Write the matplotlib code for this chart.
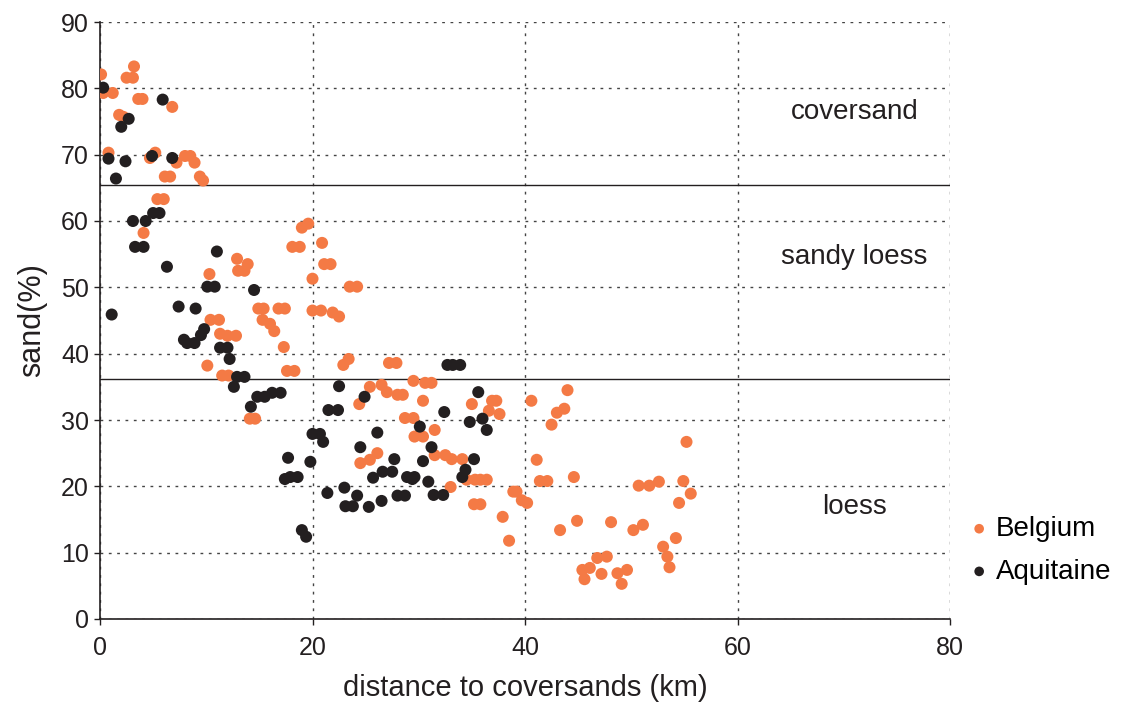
import matplotlib
matplotlib.use("Agg")
import matplotlib.pyplot as plt
from matplotlib import font_manager

# Belgium samples (distance km, sand %)
belgium_x = [0.1, 0.3, 1.2, 2.5, 3.1, 3.2, 3.6, 4.0, 6.8, 1.8, 2.2, 0.8, 4.7, 5.2, 7.2, 8.0, 8.5, 8.9,
             6.1, 6.6, 9.4, 9.7, 5.4, 6.0, 4.1, 10.3, 12.9, 13.0, 13.6, 13.9, 10.4, 11.2, 11.3, 12.0,
             12.8, 10.1, 11.5, 12.1, 14.9, 15.4, 16.8, 17.4, 15.3, 16.0, 16.4, 17.3, 17.6, 18.3, 14.1,
             14.6, 19.0, 19.6, 18.1, 18.8, 20.9, 21.1, 21.7, 20.0, 23.5, 24.2, 20.0, 20.8, 21.9, 22.5,
             22.9, 23.4, 27.2, 27.9, 25.4, 26.5, 27.0, 28.0, 28.5, 29.5, 30.6, 31.2, 24.4, 30.4, 35.0,
             28.7, 29.5, 31.5, 29.6, 30.4, 24.5, 25.4, 26.1, 31.5, 32.5, 33.1, 34.1, 33.0, 34.5, 35.3,
             35.8, 36.4, 35.2, 35.8, 36.9, 37.3, 36.6, 37.6, 37.9, 38.5, 38.9, 39.2, 39.7, 40.2, 40.6,
             41.1, 41.4, 42.1, 42.5, 43.0, 43.7, 44.0, 44.6, 43.3, 44.9, 45.4, 46.1, 45.6, 46.8, 47.7,
             47.2, 48.1, 48.7, 49.6, 49.1, 50.2, 51.1, 50.7, 51.7, 52.6, 53.0, 53.4, 53.6, 54.2, 54.5,
             54.9, 55.2, 55.6]
belgium_y = [82.1, 79.3, 79.3, 81.6, 81.6, 83.3, 78.4, 78.4, 77.2, 76.0, 75.7, 70.3, 69.5, 70.3, 68.8, 69.8, 69.8, 68.8,
             66.7, 66.7, 66.7, 66.1, 63.3, 63.3, 58.2, 52.0, 54.3, 52.5, 52.5, 53.5, 45.1, 45.1, 43.0, 42.7,
             42.7, 38.2, 36.7, 36.7, 46.8, 46.8, 46.8, 46.8, 45.1, 44.5, 43.4, 41.0, 37.4, 37.4, 30.2,
             30.2, 59.0, 59.6, 56.1, 56.1, 56.7, 53.5, 53.5, 51.3, 50.1, 50.1, 46.5, 46.5, 46.2, 45.6,
             38.3, 39.2, 38.6, 38.6, 35.0, 35.3, 34.2, 33.8, 33.8, 35.9, 35.6, 35.6, 32.4, 32.9, 32.4,
             30.3, 30.3, 28.5, 27.5, 27.5, 23.5, 24.0, 25.0, 24.7, 24.7, 24.1, 24.1, 19.9, 21.0, 21.0,
             21.0, 21.0, 17.3, 17.3, 32.9, 32.9, 31.4, 30.9, 15.4, 11.8, 19.2, 19.2, 17.9, 17.5, 32.9,
             24.0, 20.8, 20.8, 29.3, 31.1, 31.7, 34.5, 21.4, 13.4, 14.8, 7.4, 7.7, 6.0, 9.2, 9.4,
             6.8, 14.6, 6.9, 7.4, 5.3, 13.4, 14.2, 20.1, 20.1, 20.7, 10.9, 9.4, 7.8, 12.2, 17.5,
             20.8, 26.7, 18.9]

# Aquitaine samples
aquitaine_x = [0.3, 0.8, 2.4, 1.5, 2.0, 2.7, 5.9, 4.9, 6.8, 3.1, 4.3, 5.0, 5.6, 3.3, 4.1, 6.3, 11.0, 10.1,
               10.8, 14.5, 1.1, 7.4, 9.0, 9.8, 9.5, 7.9, 8.2, 8.9, 11.3, 12.0, 12.2, 12.9, 13.6, 12.6,
               14.2, 14.8, 15.5, 16.2, 17.0, 17.4, 17.7, 17.9, 18.6, 19.0, 19.4, 19.8, 20.0, 20.7, 21.0,
               21.4, 21.5, 22.4, 22.5, 23.0, 23.1, 23.8, 24.2, 24.5, 24.9, 25.3, 25.7, 26.1, 26.5, 26.6,
               27.5, 27.7, 28.0, 28.7, 28.9, 29.6, 29.4, 30.1, 30.4, 30.9, 31.2, 31.4, 32.3, 32.4, 32.7,
               33.2, 33.9, 34.1, 34.4, 34.8, 35.2, 35.6, 36.0, 36.4]
aquitaine_y = [80.1, 69.4, 69.0, 66.4, 74.2, 75.4, 78.3, 69.8, 69.5, 60.0, 60.0, 61.2, 61.2, 56.1, 56.1, 53.1, 55.4, 50.1,
               50.1, 49.6, 45.9, 47.1, 46.8, 43.7, 42.8, 42.1, 41.6, 41.6, 40.9, 40.9, 39.2, 36.5, 36.5, 35.0,
               32.0, 33.5, 33.5, 34.1, 34.1, 21.1, 24.3, 21.4, 21.4, 13.4, 12.4, 23.7, 27.9, 27.9, 26.7,
               19.0, 31.5, 31.5, 35.1, 19.8, 17.0, 17.0, 18.6, 25.9, 33.5, 16.9, 21.3, 28.1, 17.8, 22.2,
               22.2, 24.1, 18.6, 18.6, 21.4, 21.4, 21.1, 29.0, 23.8, 20.7, 25.9, 18.7, 18.7, 31.2, 38.3,
               38.3, 38.3, 21.4, 22.5, 29.7, 24.1, 34.2, 30.2, 28.5]

# zone boundaries and labels
boundaries = [65.5, 36.2]
zone_names = ["coversand", "sandy loess", "loess"]
zone_y = [76.5, 54.6, 16.9]

available = {f.name for f in font_manager.fontManager.ttflist}
fam = ["Liberation Sans Narrow", "DejaVu Sans"] if "Liberation Sans Narrow" in available else ["Liberation Sans", "DejaVu Sans"]
plt.rcParams["font.family"] = fam

orange = "#F47A45"
black = "#231F20"

fig = plt.figure(figsize=(11.25, 7.15), dpi=100)
ax = fig.add_axes([100 / 1125, 96 / 715, 850 / 1125, 597 / 715])

ax.scatter(belgium_x, belgium_y, s=75, color=orange, edgecolors="none", label="Belgium", zorder=3)
ax.scatter(aquitaine_x, aquitaine_y, s=75, color=black, edgecolors="none", label="Aquitaine", zorder=3)

for b in boundaries:
    ax.axhline(b, color=black, lw=1.0, zorder=2)
for name, y in zip(zone_names, zone_y):
    ax.text(71, y, name, ha="center", va="center", fontsize=20, color=black)

ax.set_xlim(0, 80)
ax.set_ylim(0, 90)
ax.set_xticks(range(0, 81, 20))
ax.set_yticks(range(0, 91, 10))
ax.tick_params(labelsize=18, length=4, width=1, colors=black, pad=4)
ax.tick_params(axis="x", pad=8)
ax.grid(True, linestyle=(0, (2, 4)), color="#444444", lw=1.0)

for side in ["top", "right"]:
    ax.spines[side].set_visible(False)
for side in ["left", "bottom"]:
    ax.spines[side].set_color(black)
    ax.spines[side].set_linewidth(1.2)

ax.set_xlabel("distance to coversands (km)", fontsize=21, color=black, labelpad=10)
ax.set_ylabel("sand(%)", fontsize=22, color=black, labelpad=10)

ax.legend(loc="center left", bbox_to_anchor=(1.0, 0.115), frameon=False, fontsize=20,
          handletextpad=0.1, handlelength=1.0, markerscale=0.8, labelspacing=0.6, borderaxespad=0.15)

fig.savefig("out.png", dpi=100)
